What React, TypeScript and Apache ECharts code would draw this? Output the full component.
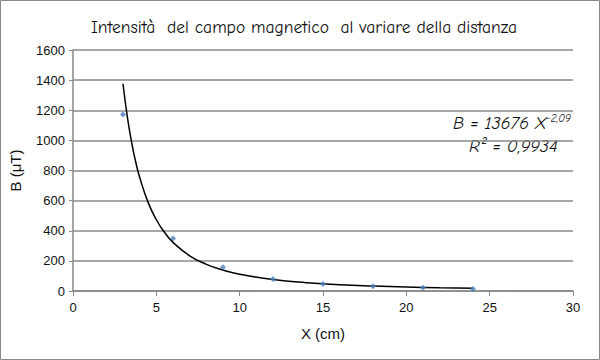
import React, { useEffect, useRef } from "react";
import * as echarts from "echarts";

const distances = [3, 6, 9, 12, 15, 18, 21, 24];
const fieldValues = [1172, 348, 157, 80, 47, 31, 21, 14];
const trendX = [3, 3.25, 3.5, 3.75, 4, 4.5, 5, 5.5, 6, 7, 8, 9, 10, 12, 14, 16, 18, 20, 22, 24];
const trendY = [1376, 1164, 997, 863, 755, 590, 473, 388, 323, 234, 177, 139, 111, 76, 55, 42, 33, 26, 21, 18];
const titleText = "Intensità  del campo magnetico  al variare della distanza";

export default function App() {
  const ref = useRef<HTMLDivElement>(null);
  useEffect(() => {
    document.body.style.margin = "0";
    const chart = echarts.init(ref.current!, null, { renderer: "svg" });
    const sans = "'Liberation Sans', Arial, sans-serif";
    const comic = "'Comic Sans MS', 'Comic Neue', 'DejaVu Sans', sans-serif";
    chart.setOption({
      animation: false,
      backgroundColor: "#ffffff",
      title: {
        text: titleText,
        left: 299,
        top: 13,
        textAlign: "center",
        textStyle: { fontFamily: comic, fontSize: 17.5, fontWeight: "normal", color: "#111" },
      },
      grid: { left: 72, right: 27, top: 50, bottom: 69 },
      xAxis: {
        type: "value",
        min: 0,
        max: 30,
        interval: 5,
        name: "X (cm)",
        nameLocation: "middle",
        nameGap: 35,
        nameTextStyle: { fontFamily: sans, fontSize: 15, color: "#111" },
        axisLine: { lineStyle: { color: "#888", width: 1.5 } },
        axisTick: { show: true, length: 5, lineStyle: { color: "#888" } },
        axisLabel: { fontFamily: sans, fontSize: 13, color: "#111", margin: 10 },
        splitLine: { show: false },
      },
      yAxis: {
        type: "value",
        min: 0,
        max: 1600,
        interval: 200,
        name: "B (μT)",
        nameLocation: "middle",
        nameGap: 50,
        nameTextStyle: { fontFamily: sans, fontSize: 15, color: "#111" },
        axisLine: { show: true, lineStyle: { color: "#888", width: 1.5 } },
        axisTick: { show: true, length: 4, lineStyle: { color: "#888" } },
        axisLabel: { fontFamily: sans, fontSize: 13, color: "#111", margin: 8, formatter: (v: number) => String(v) },
        splitLine: { show: true, lineStyle: { color: "#8a8a8a", width: 1.5 } },
      },
      series: [
        {
          type: "line",
          data: trendX.map((x, i) => [x, trendY[i]]),
          smooth: true,
          showSymbol: false,
          lineStyle: { color: "#000", width: 1.5 },
          z: 3,
        },
        {
          type: "scatter",
          data: distances.map((x, i) => [x, fieldValues[i]]),
          symbol: "diamond",
          symbolSize: 6,
          itemStyle: { color: "#4a7ebb" },
          z: 4,
        },
      ],
      graphic: [
        {
          type: "rect",
          shape: { x: 0.5, y: 0.5, width: 599, height: 359 },
          style: { fill: "none", stroke: "#888", lineWidth: 1 },
          silent: true,
        },
        {
          type: "text",
          x: 453,
          y: 113,
          style: {
            text: "{m|B = 13676 X}{s|-2,09}",
            rich: {
              m: { fontFamily: comic, fontSize: 18, fontStyle: "italic", fill: "#111" },
              s: { fontFamily: comic, fontSize: 11, fontStyle: "italic", fill: "#111", verticalAlign: "top", padding: [0, 0, 9, 0] },
            },
          },
        },
        {
          type: "text",
          x: 469,
          y: 137,
          style: {
            text: "R² = 0,9934",
            fontFamily: comic,
            fontSize: 18,
            fontStyle: "italic",
            fill: "#111",
          },
        },
      ],
    });
    return () => chart.dispose();
  }, []);
  return <div ref={ref} style={{ width: 600, height: 360 }} />;
}
